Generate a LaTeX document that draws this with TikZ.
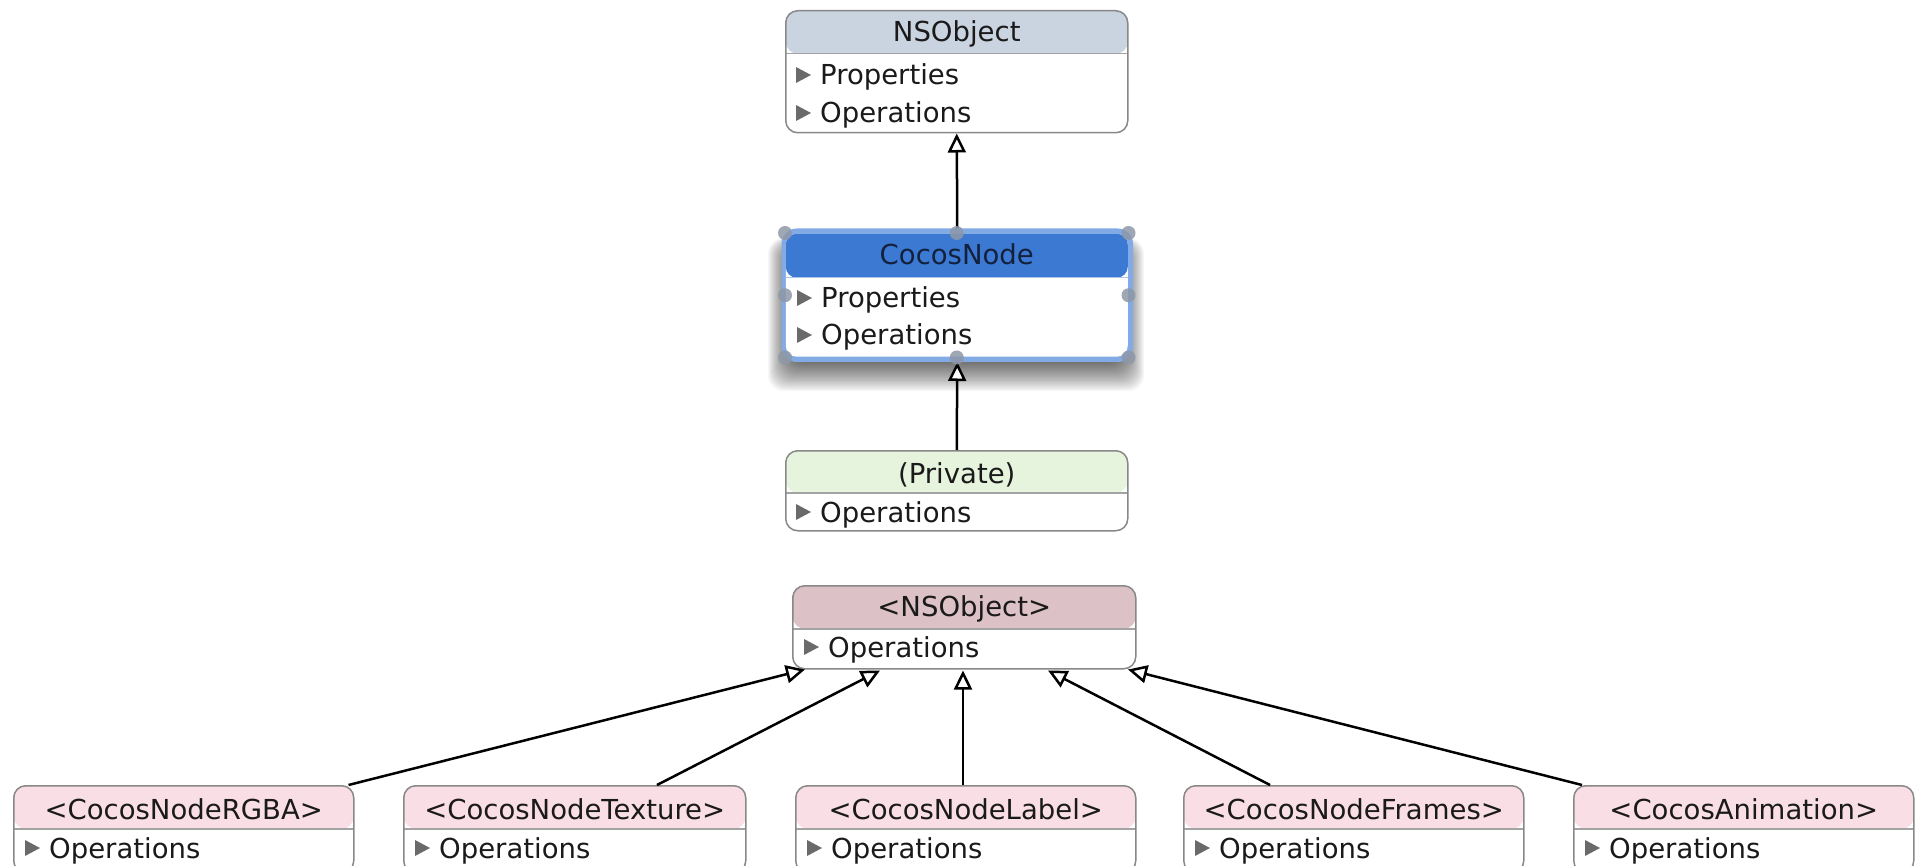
\documentclass[tikz,border=0pt]{standalone}
\usepackage{fontspec}
\setmainfont{DejaVu Sans}
\usetikzlibrary{arrows.meta,calc}

\definecolor{edge}{HTML}{888888}
\definecolor{rule}{HTML}{A3A3A3}
\definecolor{hdrgray}{HTML}{CAD3E0}
\definecolor{hdrblue}{HTML}{3C79D3}
\definecolor{selblue}{HTML}{82AAE5}
\definecolor{selrule}{HTML}{A9C5EE}
\definecolor{hdrgreen}{HTML}{E6F3DD}
\definecolor{hdrmauve}{HTML}{DCC1C7}
\definecolor{hdrpink}{HTML}{F9DFE5}
\definecolor{tri}{HTML}{6A6A6A}
\definecolor{ink}{HTML}{1A1A1A}
\definecolor{navy}{HTML}{14213D}
\definecolor{handle}{HTML}{8E98A8}

\tikzset{
  classbox/.style={draw=edge, line width=1.5pt, rounded corners=12pt, fill=white,
    inner sep=0pt, anchor=north west},
  header/.style n args={3}{path picture={
      \fill[#1] (path picture bounding box.north west) rectangle
                ([yshift=-#2]path picture bounding box.north east);
      \draw[#3, line width=1.5pt] ([yshift=-#2]path picture bounding box.north west) --
                ([yshift=-#2]path picture bounding box.north east);}},
  title/.style={inner sep=0pt, anchor=base, text=ink},
  rowtext/.style={inner sep=0pt, anchor=base west, text=ink},
  gen/.style={draw=black, line width=2.5pt,
    -{Triangle[length=19pt, width=18pt, fill=white]}},
}

% one compartment row: disclosure triangle followed by its text
\newcommand\umlrow[3]{%
  \node[rowtext] (#1) at (#2) {#3};
  \fill[tri] ([xshift=-24pt,yshift=2pt]#1.base west) -- ++(15pt,8pt) -- ++(-15pt,8pt) -- cycle;
}
% a class box: name, left, top, width, height, header colour, header height
\newcommand\umlclass[7]{%
  \node[classbox, minimum width=#4pt, minimum height=#5pt, header={#6}{#7pt}{rule}] (#1) at (#2,#3) {};
}

\begin{document}
\begin{tikzpicture}[x=1pt, y=-1pt, font=\fontsize{27.5pt}{33pt}\selectfont]
\useasboundingbox (0,0) rectangle (1917,866);
\clip (0,0) rectangle (1917,866);
\fill[white] (0,0) rectangle (1917,866);

% ---- NSObject
\umlclass{nsobj}{785}{10}{342}{122}{hdrgray}{43}
\node[title] (nsobj-t) at ($(nsobj.north)+(0,32)$) {NSObject};
\umlrow{nsobj-r1}{$(nsobj.north west)+(35,75)$}{Properties}
\umlrow{nsobj-r2}{$(nsobj.north west)+(35,113)$}{Operations}

% ---- CocosNode (selected, with soft drop shadow)
\foreach \s in {0,...,24}
  \fill[black, opacity=0.03, rounded corners=16pt] (792-\s,250-0.5*\s) rectangle (1120+\s,360+1.3*\s);
\node[classbox, draw=selblue, line width=2.5pt, fill=selblue, rounded corners=14pt,
      minimum width=349pt, minimum height=131pt] (cocos) at (781.5,228.5) {};
\node[classbox, draw=none, rounded corners=11pt, minimum width=342pt, minimum height=123pt,
      header={hdrblue}{44pt}{selrule}] (cocosin) at (785,233) {};
\node[title, text=navy] (cocos-t) at ($(cocosin.north)+(0,32)$) {CocosNode};
\umlrow{cocos-r1}{$(cocosin.north west)+(36,75)$}{Properties}
\umlrow{cocos-r2}{$(cocosin.north west)+(36,112)$}{Operations}

% ---- (Private)
\umlclass{priv}{785}{450}{342}{80}{hdrgreen}{42}
\node[title] (priv-t) at ($(priv.north)+(0,33)$) {(Private)};
\umlrow{priv-r1}{$(priv.north west)+(35,72)$}{Operations}

% ---- <NSObject> protocol
\umlclass{nsp}{792}{585}{343}{83}{hdrmauve}{43}
\node[title] (nsp-t) at ($(nsp.north)+(0,31)$) {<NSObject>};
\umlrow{nsp-r1}{$(nsp.north west)+(36,72)$}{Operations}

% ---- bottom row of protocols
\umlclass{rgba}{13}{785}{340}{87}{hdrpink}{43}
\node[title] (rgba-t) at ($(rgba.north)+(0,34)$) {<CocosNodeRGBA>};
\umlrow{rgba-r1}{$(rgba.north west)+(36,73)$}{Operations}

\umlclass{tex}{403}{785}{342}{87}{hdrpink}{43}
\node[title] (tex-t) at ($(tex.north)+(0,34)$) {<CocosNodeTexture>};
\umlrow{tex-r1}{$(tex.north west)+(36,73)$}{Operations}

\umlclass{lbl}{795}{785}{340}{87}{hdrpink}{43}
\node[title] (lbl-t) at ($(lbl.north)+(0,34)$) {<CocosNodeLabel>};
\umlrow{lbl-r1}{$(lbl.north west)+(36,73)$}{Operations}

\umlclass{frm}{1183}{785}{340}{87}{hdrpink}{43}
\node[title] (frm-t) at ($(frm.north)+(0,34)$) {<CocosNodeFrames>};
\umlrow{frm-r1}{$(frm.north west)+(36,73)$}{Operations}

\umlclass{anim}{1573}{785}{340}{87}{hdrpink}{43}
\node[title] (anim-t) at ($(anim.north)+(0,34)$) {<CocosAnimation>};
\umlrow{anim-r1}{$(anim.north west)+(36,73)$}{Operations}

% ---- generalisations
\draw[gen] (cocos.north) -- (nsobj.south);
\draw[gen] (priv.north) -- (cocos.south);
\draw[gen] ($(rgba.north east)+(-6,0)$) -- ($(nsp.south west)+(13,0)$);
\draw[gen] ($(tex.north west)+(254,0)$) -- ($(nsp.south west)+(88,1)$);
\draw[gen] ($(lbl.north west)+(168,0)$) -- ($(nsp.south west)+(171,1)$);
\draw[gen] ($(frm.north west)+(87,0)$) -- ($(nsp.south west)+(256,1)$);
\draw[gen] ($(anim.north west)+(9,0)$) -- ($(nsp.south west)+(336,0)$);

% ---- selection handles
\foreach \a in {north west, north, north east, west, east, south west, south, south east}
  \fill[handle, opacity=0.85] (cocosin.\a) circle (7);
\end{tikzpicture}
\end{document}
